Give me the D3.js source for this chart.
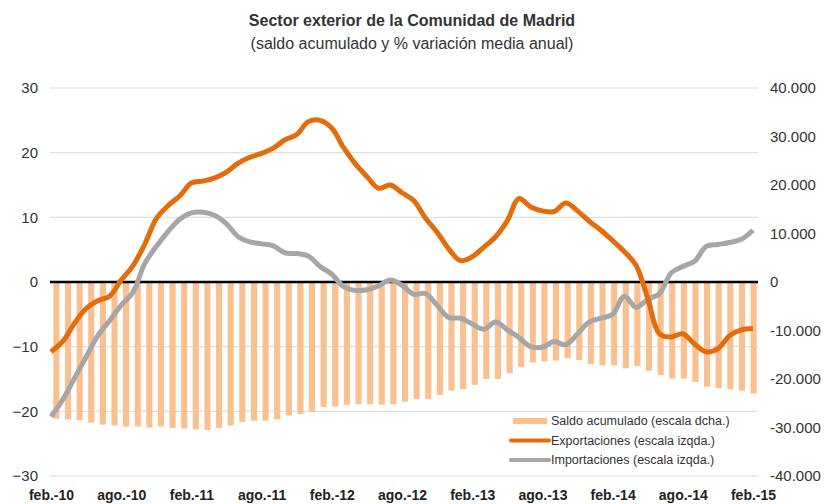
<!DOCTYPE html>
<html><head><meta charset="utf-8">
<script src="https://cdn.jsdelivr.net/npm/d3@7"></script>
<style>
body{margin:0;background:#fff;}
svg{display:block;font-family:"Liberation Sans",Arial,Helvetica,sans-serif;}
</style></head>
<body><svg id="chart" width="824" height="504"></svg>
<script>
const months = ["ene.","feb.","mar.","abr.","may.","jun.","jul.","ago.","sep.","oct.","nov.","dic."];
const categories = [];
for (let i = 0; i < 61; i++) { const m = (1 + i) % 12, y = 10 + Math.floor((1 + i) / 12); categories.push(months[m] + "-" + y); }
const tickLabels = ["feb.-10","ago.-10","feb.-11","ago.-11","feb.-12","ago.-12","feb.-13","ago.-13","feb.-14","ago.-14","feb.-15"];
const leftTicks = [30,20,10,0,-10,-20,-30];
const rightTicks = [40000,30000,20000,10000,0,-10000,-20000,-30000,-40000];

const saldo = [-28200,-28300,-28500,-29000,-29400,-29600,-29800,-29800,-30000,-29800,-30100,-30200,-30400,-30500,-30100,
 -29600,-28900,-28600,-28600,-28300,-27500,-27200,-26700,-25800,-25700,-25300,-25200,-25200,-25300,-25200,
 -24700,-24100,-24100,-23300,-22400,-22100,-21200,-20000,-20000,-18800,-17500,-16600,-16400,-16200,-15700,
 -16100,-16900,-17200,-17200,-17800,-17300,-18300,-19200,-19900,-19900,-20600,-21600,-21900,-22100,-22400,-23000];
const exportaciones = [-10.8,-9.2,-6.4,-4.1,-2.9,-2.2,0.3,2.5,5.8,9.8,11.8,13.3,15.3,15.6,16.1,
 17.0,18.4,19.3,19.9,20.7,22.0,22.8,24.8,25.0,23.8,20.8,18.3,16.3,14.5,15.0,
 13.8,12.6,9.9,7.7,5.1,3.3,3.9,5.4,7.0,9.5,12.9,11.6,11.0,10.9,12.2,
 11.0,9.4,8.0,6.4,4.7,2.6,-2.5,-8.0,-8.5,-8.0,-9.6,-10.8,-10.3,-8.3,-7.4,-7.2];
const importaciones = [-20.8,-18.2,-14.9,-11.6,-8.3,-6.0,-3.6,-1.6,2.8,5.5,7.8,9.7,10.7,10.8,10.3,
 9.0,7.0,6.2,5.9,5.6,4.5,4.4,4.0,2.4,1.2,-0.7,-1.3,-1.2,-0.6,0.3,
 -0.5,-1.9,-1.8,-3.6,-5.5,-5.6,-6.5,-7.3,-6.2,-7.4,-8.6,-10.0,-10.1,-9.2,-9.7,
 -8.0,-6.2,-5.6,-5.0,-2.2,-3.9,-2.7,-1.8,1.4,2.4,3.2,5.5,5.8,6.1,6.6,8.0];

const svg = d3.select("#chart");
const L = 50, R = 758, T = 88, B = 476;
const xBand = d3.scaleBand().domain(categories).range([L + 1, R + 1]).paddingInner(0.47).paddingOuter(0.2);
const xPt = d3.scalePoint().domain(categories).range([51, 753]);
const yL = d3.scaleLinear().domain([-30, 30]).range([B, T]);
const yR = d3.scaleLinear().domain([-40000, 40000]).range([B, T]);

// title
svg.append("text").attr("x", 412).attr("y", 26).attr("text-anchor", "middle")
  .attr("font-size", 16).attr("font-weight", "bold").attr("fill", "#333").text("Sector exterior de la Comunidad de Madrid");
svg.append("text").attr("x", 412).attr("y", 49).attr("text-anchor", "middle")
  .attr("font-size", 16).attr("fill", "#333").text("(saldo acumulado y % variación media anual)");

// gridlines
svg.append("g").selectAll("line").data(leftTicks.filter(d => d !== 0)).join("line")
  .attr("x1", L).attr("x2", R).attr("y1", d => yL(d)).attr("y2", d => yL(d))
  .attr("stroke", "#d9d9d9").attr("stroke-width", 1);

// bars
svg.append("g").selectAll("rect").data(saldo).join("rect")
  .attr("x", (d, i) => xBand(categories[i]))
  .attr("width", xBand.bandwidth())
  .attr("y", yR(0)).attr("height", d => yR(d) - yR(0))
  .attr("fill", "#fac090");

// zero line
svg.append("line").attr("x1", L).attr("x2", R).attr("y1", yL(0)).attr("y2", yL(0))
  .attr("stroke", "#000").attr("stroke-width", 2.5);

// lines
const line = d3.line().x((d, i) => xPt(categories[i])).y(d => yL(d)).curve(d3.curveCatmullRom.alpha(0.5));
svg.append("path").datum(importaciones).attr("d", line).attr("fill", "none")
  .attr("stroke", "#a6a6a6").attr("stroke-width", 5).attr("stroke-linejoin", "round");
svg.append("path").datum(exportaciones).attr("d", line).attr("fill", "none")
  .attr("stroke", "#e46c0a").attr("stroke-width", 5).attr("stroke-linejoin", "round");

// left axis
const gl = svg.append("g").attr("transform", `translate(${L - 12},0)`)
  .call(d3.axisLeft(yL).tickValues(leftTicks).tickSize(0).tickPadding(0).tickFormat(d3.format("d")));
gl.select(".domain").remove();
gl.selectAll("text").attr("font-size", 15).attr("fill", "#333").attr("font-family", "Liberation Sans, Arial, sans-serif");

// right axis
const fmtR = d => d === 0 ? "0" : d3.format(",")(d).replace(/,/g, ".").replace("−", "-");
const gr = svg.append("g").attr("transform", `translate(${R + 12},0)`)
  .call(d3.axisRight(yR).tickValues(rightTicks).tickSize(0).tickPadding(0).tickFormat(fmtR));
gr.select(".domain").remove();
gr.selectAll("text").attr("font-size", 15).attr("fill", "#333").attr("font-family", "Liberation Sans, Arial, sans-serif");

// x labels
const gx = svg.append("g").attr("transform", `translate(0,${B + 6})`)
  .call(d3.axisBottom(xPt).tickValues(tickLabels).tickSize(0).tickPadding(8));
gx.select(".domain").remove();
gx.selectAll("text").attr("font-size", 14).attr("font-weight", "bold").attr("fill", "#222").attr("font-family", "Liberation Sans, Arial, sans-serif");

// legend
const legend = [
  {label: "Saldo acumulado (escala dcha.)", type: "bar", color: "#fac090"},
  {label: "Exportaciones (escala izqda.)", type: "line", color: "#e46c0a"},
  {label: "Importaciones (escala izqda.)", type: "line", color: "#a6a6a6"}
];
const lg = svg.append("g").attr("transform", "translate(511,421)");
legend.forEach((d, i) => {
  const g = lg.append("g").attr("transform", `translate(0,${i * 19.5})`);
  if (d.type === "bar") g.append("rect").attr("x", 2).attr("y", -3).attr("width", 34).attr("height", 6).attr("fill", d.color);
  else g.append("line").attr("x1", 0).attr("x2", 38).attr("y1", 0).attr("y2", 0).attr("stroke", d.color).attr("stroke-width", 4).attr("stroke-linecap", "round");
  g.append("text").attr("x", 40).attr("y", 0).attr("dy", "0.35em").attr("font-size", 12.5).attr("fill", "#333").text(d.label);
});
</script></body></html>
